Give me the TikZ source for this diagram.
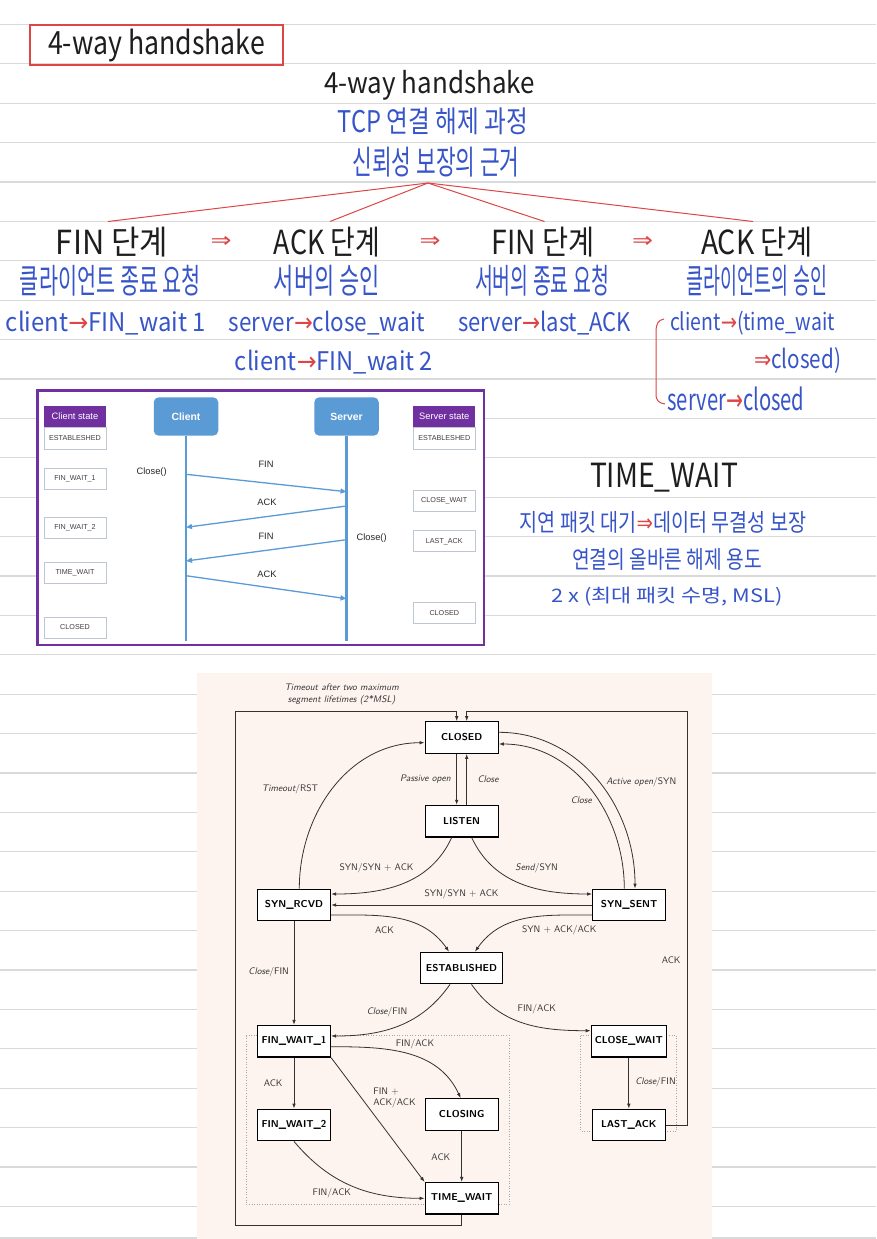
\documentclass[tikz,border=0pt]{standalone}
\usepackage{fontspec}
\usepackage{graphicx}
\usetikzlibrary{arrows.meta,calc}
\newfontfamily\kf{Noto Sans CJK KR}
\newfontfamily\uif{Liberation Sans}
\newfontfamily\symf{DejaVu Sans}
\definecolor{hwblue}{RGB}{55,85,200}
\definecolor{hwred}{RGB}{222,70,70}
\definecolor{hwblack}{RGB}{30,30,30}
\definecolor{rulec}{RGB}{218,218,218}
\definecolor{pinkbg}{RGB}{253,243,239}
\definecolor{purp}{RGB}{112,48,160}
\definecolor{sblue}{RGB}{91,155,213}
\definecolor{boxline}{RGB}{190,198,210}
\definecolor{edgec}{RGB}{50,50,50}
\newcommand{\hw}[3]{\resizebox*{#1pt}{#2pt}{\kf #3}}
\newcommand{\ra}{{\color{hwred}\symf →}}
\newcommand{\Ra}{{\color{hwred}\symf ⇒}}
\tikzset{
  hwk/.style={inner sep=0pt,text=hwblack},
  hwb/.style={inner sep=0pt,text=hwblue},
  hwr/.style={inner sep=0pt,text=hwred},
  hdr/.style={fill=purp,text=white,minimum width=62pt,minimum height=21.3pt,inner sep=0pt,font=\uif\fontsize{9.3}{11}\selectfont},
  sbox/.style={draw=boxline,line width=0.8pt,fill=white,text=black!75,minimum width=62pt,minimum height=21pt,inner sep=0pt,font=\uif\fontsize{7.2}{9}\selectfont},
  actor/.style={fill=sblue,rounded corners=5pt,text=white,minimum width=64.5pt,minimum height=38.4pt,inner sep=0pt,font=\uif\bfseries\fontsize{10.4}{12}\selectfont},
  msg/.style={sblue,line width=1.3pt,-{Triangle[length=6pt,width=5pt]}},
  mlab/.style={font=\uif\fontsize{9.3}{11}\selectfont,text=black!85,inner sep=0pt},
  st/.style={draw=black,line width=1.3pt,fill=white,minimum width=73pt,minimum height=31.5pt,inner sep=0pt,font=\sffamily\bfseries\fontsize{10}{12}\selectfont},
  tr/.style={draw=edgec,line width=0.8pt,-{Latex[length=5pt,width=3.6pt]}},
  lab/.style={font=\sffamily\fontsize{9.5}{11.5}\selectfont,text=edgec,inner sep=0pt},
}
\begin{document}
\begin{tikzpicture}[x=1pt,y=-1pt]
\useasboundingbox (0,0) rectangle (876,1239);
\fill[white] (0,0) rectangle (876,1239);
% ruled paper
\foreach \k in {0,...,30}{
  \draw[rulec,line width=1.2pt] (0,{24.3+39.4*\k}) -- (876,{24.3+39.4*\k});
}
\draw[rulec,line width=1.2pt] (0,1238) -- (876,1238);

% ---------- handwritten notes ----------
\node[hwk,draw=hwred,line width=1.1pt,minimum width=253pt,minimum height=40pt] (titlebox) at (156.5,45) {\hw{217}{33}{4-way handshake}};
\node[hwk] (hs2) at (429.5,85) {\hw{211}{30}{4-way handshake}};
\node[hwb] (tcp) at (433,121.5) {\hw{190}{27}{TCP 연결 해제 과정}};
\node[hwb] (rel) at (436,162) {\hw{167}{30}{신뢰성 보장의 근거}};

\node[hwk] (fin1) at (112,241.7) {\hw{112}{30}{FIN 단계}};
\node[hwk] (ack1) at (327,241.7) {\hw{106}{30}{ACK 단계}};
\node[hwk] (fin2) at (543.5,241.7) {\hw{103}{30}{FIN 단계}};
\node[hwk] (ack2) at (757,241.7) {\hw{112}{30}{ACK 단계}};
\node[hwr] (ar1) at (221,242) {\resizebox{21pt}{11pt}{\symf ⇒}};
\node[hwr] (ar2) at (430,242) {\resizebox{21pt}{11pt}{\symf ⇒}};
\node[hwr] (ar3) at (642.5,242) {\resizebox{21pt}{11pt}{\symf ⇒}};

\coordinate (root) at (428,183);
\draw[hwred,line width=1pt] (root) -- ([xshift=-4pt,yshift=5pt]fin1.north);
\draw[hwred,line width=1pt] (root) -- ([xshift=3pt,yshift=5pt]ack1.north);
\draw[hwred,line width=1pt] (root) -- ([xshift=1pt,yshift=5pt]fin2.north);
\draw[hwred,line width=1pt] (root) -- ([xshift=-4pt,yshift=5pt]ack2.north);

\node[hwb] (d1) at (110.5,281) {\hw{181}{31}{클라이언트 종료 요청}};
\node[hwb] (d2) at (327,281) {\hw{106}{31}{서버의 승인}};
\node[hwb] (d3) at (542,281) {\hw{134}{31}{서버의 종료 요청}};
\node[hwb] (d4) at (757,281) {\hw{140}{31}{클라이언트의 승인}};

\node[hwb] (s1) at (106,323) {\hw{200}{24}{client\ra FIN\_wait 1}};
\node[hwb] (s2) at (327,323) {\hw{196}{24}{server\ra close\_wait}};
\node[hwb] (s3) at (544.5,323) {\hw{173}{24}{server\ra last\_ACK}};
\node[hwb] (s4) at (752.5,323) {\hw{165}{24}{client\ra (time\_wait}};
\node[hwb] (s5) at (334,362) {\hw{198}{24}{client\ra FIN\_wait 2}};
\node[hwb] (s6) at (797.5,361) {\hw{87}{26}{\Ra closed)}};
\node[hwb] (s7) at (736,399) {\hw{137}{24}{server\ra closed}};
\draw[hwred,line width=1pt] (664,319) .. controls (658,320) and (656,324) .. (656,332) -- (656,394) .. controls (656,401) and (659,403) .. (665,404);

\node[hwk] (tw) at (664,477.5) {\hw{148}{29}{TIME\_WAIT}};
\node[hwb] (t1) at (663,522.5) {\hw{287}{22}{지연 패킷 대기\Ra 데이터 무결성 보장}};
\node[hwb] (t2) at (667,559) {\hw{190}{22}{연결의 올바른 해제 용도}};
\node[hwb] (t3) at (667,597) {\hw{231}{19}{2 x (최대 패킷 수명, MSL)}};

% ---------- sequence diagram ----------
\draw[purp,line width=2.5pt,fill=white] (37.3,390.3) rectangle (484,645);
\node[hdr] (chdr) at (75,416.3) {Client state};
\node[sbox,minimum height=22.7pt] (cs1) at (75,438.3) {ESTABLESHED};
\node[sbox] (cs2) at (75,478.8) {FIN\_WAIT\_1};
\node[sbox] (cs3) at (75,527.8) {FIN\_WAIT\_2};
\node[sbox] (cs4) at (75,572.8) {TIME\_WAIT};
\node[sbox] (cs5) at (75,627.5) {CLOSED};
\node[hdr] (shdr) at (444.3,416.3) {Server state};
\node[sbox,minimum height=22.7pt] (ss1) at (444.3,438.3) {ESTABLESHED};
\node[sbox] (ss2) at (444.3,500.5) {CLOSE\_WAIT};
\node[sbox] (ss3) at (444.3,541.2) {LAST\_ACK};
\node[sbox] (ss4) at (444.3,613.3) {CLOSED};
\node[actor] (client) at (186,416.5) {Client};
\node[actor] (server) at (346.5,416.5) {Server};
\coordinate (cend) at (186,641);
\coordinate (send) at (346.5,641);
\draw[sblue,line width=2.5pt] (client.south) -- (cend);
\draw[sblue,line width=2.5pt] (server.south) -- (send);
\coordinate (m1a) at (186,474.3);   \coordinate (m1b) at (346.5,491.7);
\coordinate (m2a) at (346.5,506);   \coordinate (m2b) at (186,527.3);
\coordinate (m3a) at (346.5,539.7); \coordinate (m3b) at (186,561);
\coordinate (m4a) at (186,575.7);   \coordinate (m4b) at (346.5,598.7);
\draw[msg] (m1a) -- (m1b);
\draw[msg] (m2a) -- (m2b);
\draw[msg] (m3a) -- (m3b);
\draw[msg] (m4a) -- (m4b);
\node[mlab] (ml1) at (266,464) {FIN};
\node[mlab] (ml2) at (267,502.3) {ACK};
\node[mlab] (ml3) at (266,536) {FIN};
\node[mlab] (ml4) at (267,574) {ACK};
\node[mlab] (cc1) at (151.7,472.3) {Close()};
\node[mlab] (cc2) at (371.7,538.3) {Close()};

% ---------- TCP state diagram ----------
\fill[pinkbg] (196.7,673.3) rectangle (712,1239);
\draw[gray!70,dotted,line width=0.6pt] (246,1035.7) rectangle (509.3,1204.3);
\draw[gray!70,dotted,line width=0.6pt] (580.7,1035.7) rectangle (676.7,1131);

\node[st] (closed) at (461.7,737.5) {CLOSED};
\node[st] (listen) at (461.7,821.2) {LISTEN};
\node[st] (synrcvd) at (294,905) {SYN\_RCVD};
\node[st] (synsent) at (629.2,905) {SYN\_SENT};
\node[st,minimum width=81.6pt] (est) at (461.5,968) {ESTABLISHED};
\node[st] (fw1) at (294,1041.3) {FIN\_WAIT\_1};
\node[st,minimum width=75pt] (cw) at (628.8,1041.3) {CLOSE\_WAIT};
\node[st] (fw2) at (294,1125) {FIN\_WAIT\_2};
\node[st] (closing) at (461.7,1114.5) {CLOSING};
\node[st] (la) at (628.8,1125) {LAST\_ACK};
\node[st] (tw2) at (461.7,1198.3) {TIME\_WAIT};

\coordinate (loopBL) at (235.7,1225);
\coordinate (loopTL) at (235.7,711);
\coordinate (loopTR) at (687.3,711);

\draw[tr] ([xshift=-5pt]closed.south) -- ([xshift=-5pt]listen.north);
\draw[tr] ([xshift=5pt]listen.north) -- ([xshift=5pt]closed.south);
\draw[tr] ([xshift=5.3pt]synrcvd.north) to[out=90,in=180] ([yshift=-5.2pt]closed.west);
\draw[tr] ([yshift=5.2pt]closed.east) to[out=0,in=90] ([xshift=5.8pt]synsent.north);
\draw[tr] ([xshift=-4.9pt]synsent.north) to[out=90,in=0] ([yshift=-6.5pt]closed.east);
\draw[tr] ([xshift=-10pt]listen.south) to[out=-115,in=0] ([yshift=11pt]synrcvd.east);
\draw[tr] ([xshift=10pt]listen.south) to[out=-65,in=180] ([yshift=11pt]synsent.west);
\draw[tr] (synsent.west) -- (synrcvd.east);
\draw[tr] ([yshift=-10pt]synrcvd.east) to[out=0,in=125] ([xshift=-12.5pt]est.north);
\draw[tr] ([yshift=-10pt]synsent.west) to[out=180,in=55] ([xshift=13.5pt]est.north);
\draw[tr] (synrcvd.south) -- (fw1.north);
\draw[tr] ([xshift=-11.5pt]est.south) to[out=-125,in=0] ([yshift=5.3pt]fw1.east);
\draw[tr] ([xshift=10pt]est.south) to[out=-55,in=180] ([yshift=10.6pt]cw.west);
\draw[tr] (cw.south) -- (la.north);
\draw[tr] (la.east) -| (loopTR) -| ([xshift=5pt]closed.north);
\draw[tr] (fw1.south) -- (fw2.north);
\draw[tr] ([yshift=-5.4pt]fw1.east) to[out=0,in=115] ([xshift=-1pt]closing.north);
\draw[tr] (fw1.south east) -- (tw2.north west);
\draw[tr] (closing.south) -- (tw2.north);
\draw[tr] (fw2.south) to[out=-50,in=180] (tw2.west);
\draw[tr] (tw2.south) |- (loopBL) -- (loopTL) -| ([xshift=-5pt]closed.north);

\node[lab,align=center,font=\sffamily\itshape\fontsize{9.5}{11.7}\selectfont] (note) at (341.7,694) {Timeout after two maximum\\segment lifetimes (2*MSL)};
\node[lab] (e1) at (425.5,779) {\itshape Passive open};
\node[lab] (e2) at (488,779) {\itshape Close};
\node[lab] (e3) at (290,789) {{\itshape Timeout}/RST};
\node[lab] (e4) at (641.3,781.7) {{\itshape Active open}/SYN};
\node[lab] (e5) at (581.3,800.3) {\itshape Close};
\node[lab] (e6) at (376.5,868.3) {SYN/SYN + ACK};
\node[lab] (e7) at (536.7,868.3) {{\itshape Send}/SYN};
\node[lab] (e8) at (461.5,894) {SYN/SYN + ACK};
\node[lab] (e9) at (384.5,930.3) {ACK};
\node[lab] (e10) at (559.2,930.3) {SYN + ACK/ACK};
\node[lab] (e11) at (268.7,972.3) {{\itshape Close}/FIN};
\node[lab] (e12) at (387,1012.3) {{\itshape Close}/FIN};
\node[lab] (e13) at (536.8,1009.3) {FIN/ACK};
\node[lab] (e14) at (415,1044) {FIN/ACK};
\node[lab] (e15) at (273.2,1083.3) {ACK};
\node[lab,align=left] (e16) at (394.5,1097.7) {FIN +\\ACK/ACK};
\node[lab] (e17) at (440.8,1156.7) {ACK};
\node[lab] (e18) at (331.8,1193.3) {FIN/ACK};
\node[lab] (e19) at (655.5,1082.3) {{\itshape Close}/FIN};
\node[lab] (e20) at (671.2,959.7) {ACK};
\end{tikzpicture}
\end{document}
